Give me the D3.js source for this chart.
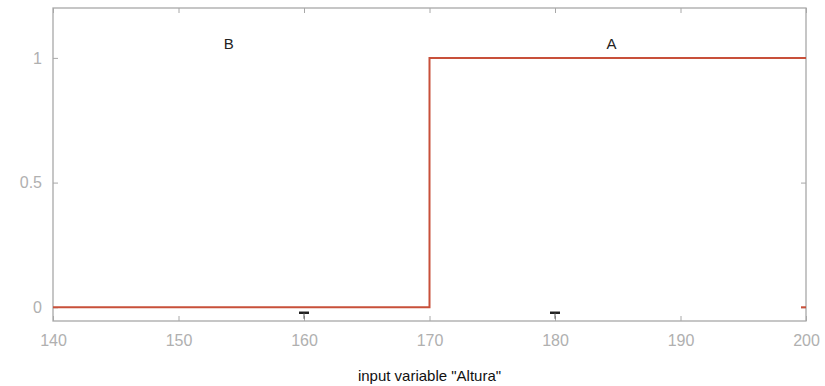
<!DOCTYPE html>
<html>
<head>
<meta charset="utf-8">
<script src="https://cdn.jsdelivr.net/npm/d3@7"></script>
<style>
  body { margin: 0; background: #fff; }
  text { font-family: "Liberation Sans", Arial, sans-serif; }
</style>
</head>
<body>
<div id="chart"></div>
<script>
// Membership functions of "Altura"
var setNames = ["B", "A"];
var setLabelX = [154, 184.5];
var stepX = [140, 170, 170, 200];
var stepY = [0, 0, 1, 1];
var markerX = [160, 180];
var xTicks = [140, 150, 160, 170, 180, 190, 200];
var yTicks = [0, 0.5, 1];

var W = 825, H = 386;
var margin = { top: 8, right: 19, bottom: 65, left: 53 },
    width = W - margin.left - margin.right,
    height = H - margin.top - margin.bottom;

var svg = d3.select("#chart")
  .append("svg")
    .attr("width", W)
    .attr("height", H)
  .append("g")
    .attr("transform", `translate(${margin.left},${margin.top})`);

var x = d3.scaleLinear().domain([140, 200]).range([0, width]);
var y = d3.scaleLinear().domain([-0.055, 1.2]).range([height, 0]);

var gray = "#a8a8a8";

// frame
svg.append("rect")
  .attr("width", width).attr("height", height)
  .attr("fill", "none").attr("stroke", gray).attr("stroke-width", 1.3);

// axes, ticks pointing inward
var xb = svg.append("g").attr("transform", `translate(0,${height})`)
  .call(d3.axisBottom(x).tickValues(xTicks).tickSize(-5).tickPadding(14));
var xt = svg.append("g")
  .call(d3.axisTop(x).tickValues(xTicks).tickSize(-5).tickFormat(""));
var yl = svg.append("g")
  .call(d3.axisLeft(y).tickValues(yTicks).tickSize(-5).tickPadding(11).tickFormat(d3.format("")));
var yr = svg.append("g").attr("transform", `translate(${width},0)`)
  .call(d3.axisRight(y).tickValues(yTicks).tickSize(-5).tickFormat(""));

[xb, xt, yl, yr].forEach(function(g) {
  g.select(".domain").remove();
  g.selectAll(".tick line").attr("stroke", gray);
  g.selectAll("text").attr("fill", "#b0b0b0").style("font-size", "16px");
});

// membership line
var pts = stepX.map(function(d, i) { return [d, stepY[i]]; });
svg.append("path")
  .datum(pts)
  .attr("fill", "none")
  .attr("stroke", "#c8503a")
  .attr("stroke-width", 2)
  .attr("d", d3.line().x(function(d) { return x(d[0]); }).y(function(d) { return y(d[1]); }));

// set labels
svg.selectAll(".setlabel")
  .data(setNames)
  .enter().append("text")
  .attr("x", function(d, i) { return x(setLabelX[i]); })
  .attr("y", y(1.035))
  .attr("text-anchor", "middle")
  .attr("fill", "#222")
  .style("font-size", "15px")
  .text(function(d) { return d; });

// small markers near the bottom
var mk = svg.selectAll(".mk").data(markerX).enter().append("g")
  .attr("transform", function(d) { return `translate(${x(d)},${y(-0.022)})`; });
mk.append("line").attr("x1", -5).attr("x2", 5).attr("stroke", "#222").attr("stroke-width", 2.5);
mk.append("line").attr("y1", 0).attr("y2", 6).attr("stroke", "#555").attr("stroke-width", 1);

svg.append("line")
  .attr("x1", x(199.6)).attr("x2", x(200)).attr("y1", y(0)).attr("y2", y(0))
  .attr("stroke", "#c8503a").attr("stroke-width", 2);

// x axis title
svg.append("text")
  .attr("x", x(170))
  .attr("y", height + 60)
  .attr("text-anchor", "middle")
  .attr("fill", "#111")
  .style("font-size", "15px")
  .text('input variable "Altura"');
</script>
</body>
</html>
